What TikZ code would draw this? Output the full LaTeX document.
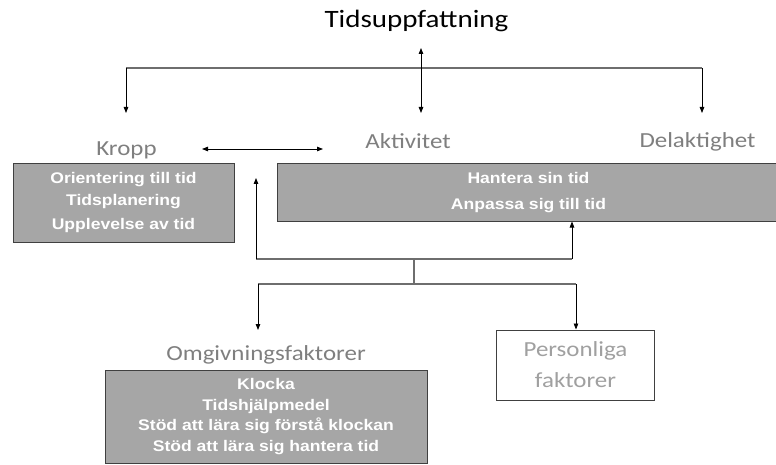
\documentclass[tikz,border=0pt]{standalone}
\usepackage{fontspec}
\setmainfont{Carlito}[FakeStretch=1.16]
\newfontfamily\boxfont{Liberation Sans}[FakeStretch=1.14]
\usetikzlibrary{arrows.meta}

\definecolor{labelgray}{HTML}{7F7F7F}
\definecolor{palegray}{HTML}{A0A0A0}
\definecolor{boxfill}{HTML}{A6A6A6}
\definecolor{edgegray}{HTML}{404040}
\definecolor{railgray}{HTML}{6E6E6E}

\begin{document}
\begin{tikzpicture}[x=1pt,y=-1pt,
  heading/.style={font=\fontsize{21.5}{26}\selectfont, text=labelgray, inner sep=0pt, anchor=base},
  graybox/.style={draw=edgegray, line width=1pt, fill=boxfill, text=white,
    font=\boxfont\bfseries\fontsize{15.4}{20.7}\selectfont, align=center, inner sep=0pt},
  rail/.style={draw=railgray, line width=1.1pt},
  arrowline/.style={draw=black, line width=0.8pt, -{Triangle[length=6pt,width=4.5pt]}},
  twoway/.style={draw=black, line width=0.8pt, {Triangle[length=6pt,width=4.5pt]}-{Triangle[length=6pt,width=4.5pt]}}
]
\useasboundingbox (0,0) rectangle (776,465);

% headings
\node[heading, text=black, font=\fontsize{25}{30}\selectfont] (title) at (416.5,27.5) {Tidsuppfattning};
\node[heading] (kropp) at (126.5,156) {Kropp};
\node[heading] (aktivitet) at (408,149) {Aktivitet};
\node[heading] (delaktighet) at (697.5,148) {Delaktighet};
\node[heading] (omgiv) at (266,360) {Omgivningsfaktorer};

% content boxes
\node[graybox, minimum width=221pt, minimum height=78pt] (kroppbox) at (123.5,203)
  {Orientering till tid\\[1.3pt]Tidsplanering\\[3.3pt]Upplevelse av tid};
\node[graybox, minimum width=503pt, minimum height=57pt] (aktbox) at (528.5,192.5)
  {Hantera sin tid\\[5.3pt]Anpassa sig till tid};
\node[graybox, minimum width=322pt, minimum height=93pt] (omgivbox) at (266,416.5)
  {Klocka\\Tidshjälpmedel\\Stöd att lära sig förstå klockan\\Stöd att lära sig hantera tid};
\node[draw=edgegray, line width=1pt, fill=white, minimum width=158pt, minimum height=70pt,
  text=palegray, font=\fontsize{21.5}{31}\selectfont, align=center, inner sep=0pt]
  (personal) at (575.5,365) {Personliga\\faktorer};

% junction points of the upper bracket
\coordinate (topL) at (126,68);
\coordinate (topR) at (702,68);
\coordinate (kroppIn) at (126,113);
\coordinate (delIn) at (702,113);
\coordinate (hubUp) at (421,48);
\coordinate (hubDown) at (421,113);
\coordinate (linkL) at (202,149);
\coordinate (linkR) at (323,149);

\draw[rail] (topL) -- (topR);
\draw[arrowline] (topL) -- (kroppIn);
\draw[arrowline] (topR) -- (delIn);
\draw[twoway] (hubUp) -- (hubDown);
\draw[twoway] (linkL) -- (linkR);

% feedback and split lines below
\coordinate (feedL) at (256,259);
\coordinate (feedR) at (572,259);
\coordinate (feedMid) at (414,259);
\coordinate (splitMid) at (414,284);
\coordinate (splitL) at (258,284);
\coordinate (splitR) at (576,284);
\coordinate (kroppSide) at (256,178);
\coordinate (omgivIn) at (258,330);

\draw[rail] (feedL) -- (feedR);
\draw[arrowline] (feedL) -- (kroppSide);
\draw[arrowline] (feedR) -- (feedR |- aktbox.south);
\draw[rail] (feedMid) -- (splitMid);
\draw[rail] (splitL) -- (splitR);
\draw[arrowline] (splitL) -- (omgivIn);
\draw[arrowline] (splitR) -- (splitR |- personal.north);
\end{tikzpicture}
\end{document}
